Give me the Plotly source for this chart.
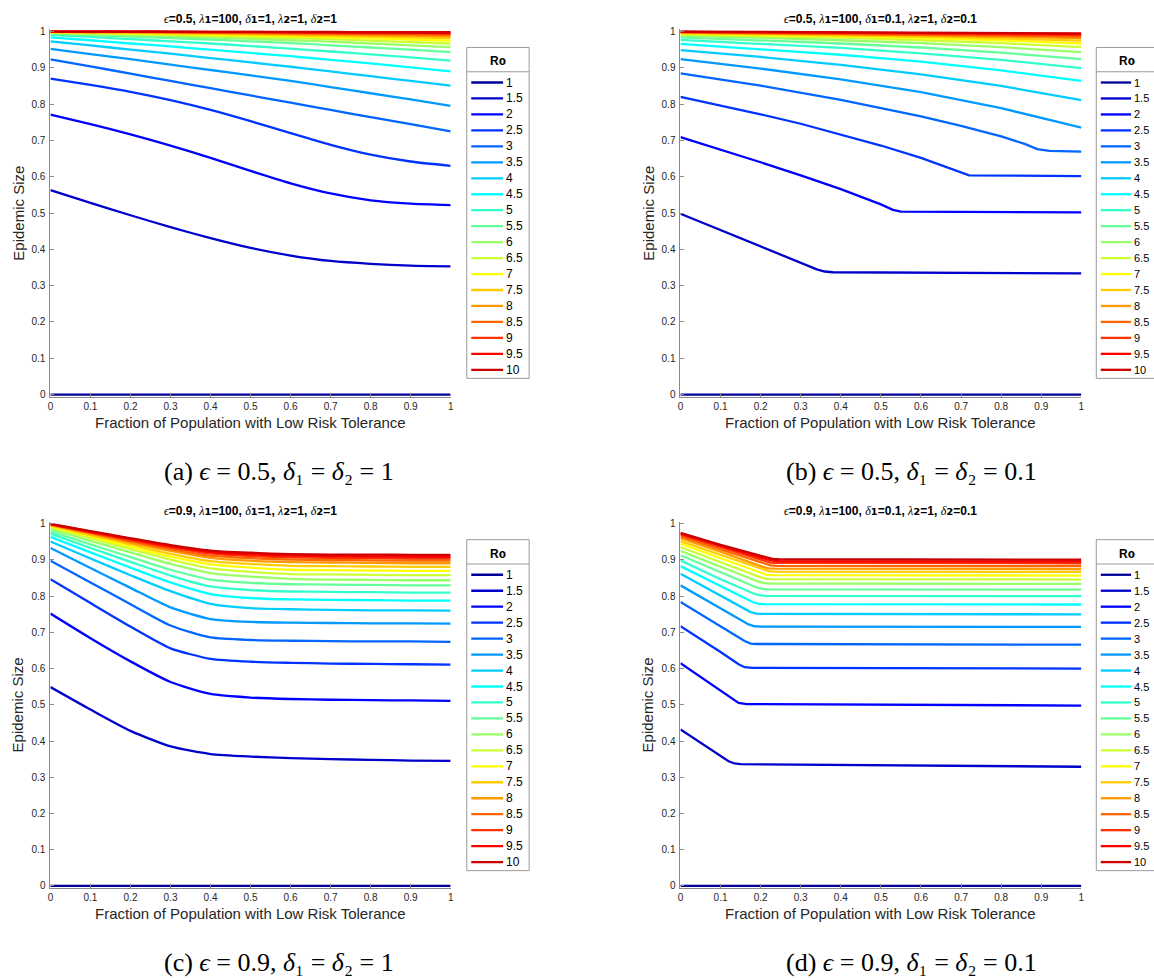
import plotly.graph_objects as go

W, H = 1154, 978

# ---------------- data ----------------
R0 = [1, 1.5, 2, 2.5, 3, 3.5, 4, 4.5, 5, 5.5, 6, 6.5, 7, 7.5, 8, 8.5, 9, 9.5, 10]
R0_LABELS = ["1", "1.5", "2", "2.5", "3", "3.5", "4", "4.5", "5", "5.5",
             "6", "6.5", "7", "7.5", "8", "8.5", "9", "9.5", "10"]
JET = ["rgb(0,0,153)", "rgb(0,0,204)", "rgb(0,0,255)", "rgb(0,51,255)", "rgb(0,102,255)",
       "rgb(0,153,255)", "rgb(0,204,255)", "rgb(0,255,255)", "rgb(51,255,204)", "rgb(102,255,153)",
       "rgb(153,255,102)", "rgb(204,255,51)", "rgb(255,255,0)", "rgb(255,204,0)", "rgb(255,153,0)",
       "rgb(255,102,0)", "rgb(255,51,0)", "rgb(255,0,0)", "rgb(204,0,0)"]

X11 = [0, 0.1, 0.2, 0.3, 0.4, 0.5, 0.6, 0.7, 0.8, 0.9, 1.0]
X6 = [0, 0.2, 0.4, 0.6, 0.8, 1.0]

# (a) eps=0.5, delta=1  (x = X11)
A_Y = [
    [0, 0, 0, 0, 0, 0, 0, 0, 0, 0, 0],
    [0.563, 0.528, 0.494, 0.461, 0.431, 0.404, 0.383, 0.368, 0.360, 0.355, 0.353],
    [0.771, 0.745, 0.717, 0.686, 0.652, 0.616, 0.582, 0.554, 0.535, 0.526, 0.522],
    [0.870, 0.853, 0.834, 0.811, 0.784, 0.753, 0.720, 0.688, 0.661, 0.642, 0.630],
    [0.923, 0.904, 0.884, 0.864, 0.844, 0.824, 0.804, 0.784, 0.764, 0.745, 0.725],
    [0.952, 0.938, 0.924, 0.909, 0.894, 0.879, 0.864, 0.847, 0.830, 0.813, 0.795],
    [0.973, 0.962, 0.950, 0.939, 0.927, 0.915, 0.903, 0.890, 0.877, 0.864, 0.851],
    [0.984, 0.976, 0.967, 0.959, 0.950, 0.941, 0.932, 0.922, 0.912, 0.901, 0.890],
    [0.991, 0.985, 0.979, 0.973, 0.967, 0.960, 0.953, 0.945, 0.937, 0.929, 0.920],
    [0.994, 0.990, 0.986, 0.982, 0.978, 0.973, 0.968, 0.962, 0.956, 0.950, 0.943],
    [0.996, 0.993, 0.990, 0.987, 0.984, 0.980, 0.976, 0.972, 0.967, 0.962, 0.957],
    [0.997, 0.995, 0.993, 0.991, 0.988, 0.985, 0.982, 0.979, 0.975, 0.971, 0.967],
    [0.998, 0.997, 0.995, 0.993, 0.991, 0.989, 0.987, 0.984, 0.981, 0.978, 0.975],
    [0.999, 0.998, 0.997, 0.995, 0.994, 0.992, 0.990, 0.988, 0.986, 0.984, 0.982],
    [0.999, 0.998, 0.998, 0.997, 0.996, 0.995, 0.993, 0.992, 0.990, 0.989, 0.987],
    [1.000, 0.999, 0.999, 0.998, 0.997, 0.996, 0.995, 0.994, 0.993, 0.992, 0.991],
    [1.000, 1.000, 0.999, 0.999, 0.998, 0.998, 0.997, 0.996, 0.996, 0.995, 0.994],
    [1.000, 1.000, 1.000, 0.999, 0.999, 0.999, 0.998, 0.998, 0.997, 0.997, 0.996],
    [1.000, 1.000, 1.000, 1.000, 0.999, 0.999, 0.999, 0.999, 0.998, 0.998, 0.998],
]

# (b) eps=0.5, delta=0.1
B_X = [
    [0, 1],
    [0, 0.1, 0.2, 0.3, 0.34, 0.36, 0.38, 1],
    [0, 0.1, 0.2, 0.3, 0.4, 0.5, 0.53, 0.55, 1],
    [0, 0.1, 0.2, 0.3, 0.4, 0.5, 0.6, 0.69, 0.72, 1],
    [0, 0.2, 0.4, 0.6, 0.7, 0.8, 0.86, 0.89, 0.92, 1],
] + [X6] * 14
B_Y = [
    [0, 0],
    [0.498, 0.453, 0.408, 0.362, 0.345, 0.339, 0.337, 0.334],
    [0.709, 0.675, 0.640, 0.604, 0.566, 0.524, 0.509, 0.504, 0.502],
    [0.820, 0.797, 0.772, 0.746, 0.717, 0.686, 0.652, 0.616, 0.604, 0.602],
    [0.885, 0.851, 0.812, 0.766, 0.740, 0.711, 0.690, 0.676, 0.671, 0.669],
    [0.924, 0.898, 0.868, 0.833, 0.789, 0.735],
    [0.949, 0.930, 0.908, 0.882, 0.850, 0.811],
    [0.966, 0.952, 0.936, 0.917, 0.893, 0.864],
    [0.977, 0.967, 0.955, 0.940, 0.922, 0.899],
    [0.984, 0.976, 0.967, 0.956, 0.942, 0.924],
    [0.989, 0.983, 0.976, 0.968, 0.957, 0.943],
    [0.992, 0.988, 0.983, 0.976, 0.968, 0.957],
    [0.994, 0.991, 0.987, 0.982, 0.976, 0.967],
    [0.996, 0.993, 0.990, 0.986, 0.981, 0.975],
    [0.997, 0.995, 0.993, 0.990, 0.986, 0.982],
    [0.998, 0.996, 0.994, 0.992, 0.989, 0.986],
    [0.999, 0.998, 0.996, 0.995, 0.993, 0.990],
    [0.999, 0.998, 0.997, 0.996, 0.995, 0.993],
    [1.000, 0.999, 0.998, 0.997, 0.996, 0.995],
]

# (c) eps=0.9, delta=1  (x = X11)
C_Y = [
    [0, 0, 0, 0, 0, 0, 0, 0, 0, 0, 0],
    [0.549, 0.487, 0.428, 0.385, 0.364, 0.357, 0.353, 0.350, 0.348, 0.346, 0.345],
    [0.752, 0.684, 0.620, 0.563, 0.530, 0.520, 0.516, 0.514, 0.513, 0.512, 0.511],
    [0.847, 0.781, 0.716, 0.656, 0.627, 0.619, 0.616, 0.614, 0.613, 0.612, 0.611],
    [0.898, 0.838, 0.778, 0.719, 0.686, 0.679, 0.677, 0.676, 0.675, 0.675, 0.674],
    [0.933, 0.878, 0.823, 0.769, 0.737, 0.729, 0.727, 0.726, 0.725, 0.725, 0.724],
    [0.951, 0.904, 0.858, 0.814, 0.779, 0.767, 0.764, 0.762, 0.761, 0.761, 0.760],
    [0.964, 0.921, 0.879, 0.838, 0.806, 0.795, 0.791, 0.790, 0.789, 0.788, 0.788],
    [0.973, 0.933, 0.895, 0.857, 0.827, 0.817, 0.813, 0.812, 0.811, 0.810, 0.810],
    [0.979, 0.943, 0.908, 0.873, 0.846, 0.837, 0.833, 0.832, 0.831, 0.830, 0.830],
    [0.986, 0.953, 0.921, 0.889, 0.864, 0.854, 0.848, 0.846, 0.845, 0.844, 0.844],
    [0.991, 0.960, 0.930, 0.901, 0.877, 0.867, 0.861, 0.860, 0.859, 0.858, 0.858],
    [0.993, 0.965, 0.937, 0.909, 0.888, 0.879, 0.873, 0.872, 0.871, 0.870, 0.870],
    [0.995, 0.969, 0.943, 0.917, 0.897, 0.889, 0.884, 0.883, 0.882, 0.881, 0.881],
    [0.997, 0.973, 0.948, 0.925, 0.906, 0.898, 0.894, 0.893, 0.892, 0.891, 0.891],
    [0.998, 0.975, 0.952, 0.930, 0.912, 0.905, 0.901, 0.900, 0.899, 0.898, 0.898],
    [0.999, 0.977, 0.955, 0.935, 0.918, 0.911, 0.907, 0.906, 0.905, 0.904, 0.904],
    [0.999, 0.978, 0.958, 0.938, 0.922, 0.916, 0.912, 0.911, 0.910, 0.909, 0.909],
    [1.000, 0.980, 0.960, 0.941, 0.926, 0.920, 0.916, 0.915, 0.915, 0.914, 0.914],
]

# (d) eps=0.9, delta=0.1
D_X = [
    [0, 1],
    [0, 0.05, 0.1, 0.12, 0.135, 0.15, 1],
    [0, 0.05, 0.1, 0.13, 0.145, 0.165, 1],
    [0, 0.05, 0.1, 0.145, 0.16, 0.18, 1],
    [0, 0.08, 0.16, 0.175, 0.19, 1],
    [0, 0.09, 0.17, 0.185, 0.2, 1],
    [0, 0.09, 0.175, 0.19, 0.2, 1],
    [0, 0.09, 0.18, 0.195, 0.21, 1],
    [0, 0.1, 0.185, 0.2, 0.215, 1],
    [0, 0.1, 0.19, 0.205, 0.22, 1],
    [0, 0.1, 0.195, 0.21, 0.225, 1],
    [0, 0.1, 0.2, 0.215, 0.23, 1],
    [0, 0.1, 0.2, 0.215, 0.23, 1],
    [0, 0.1, 0.205, 0.22, 0.235, 1],
    [0, 0.1, 0.205, 0.22, 0.235, 1],
    [0, 0.1, 0.21, 0.225, 0.24, 1],
    [0, 0.1, 0.21, 0.225, 0.24, 1],
    [0, 0.1, 0.215, 0.23, 0.245, 1],
    [0, 0.1, 0.215, 0.23, 0.245, 1],
]
D_Y = [
    [0, 0],
    [0.432, 0.395, 0.358, 0.344, 0.338, 0.336, 0.329],
    [0.615, 0.577, 0.539, 0.515, 0.505, 0.502, 0.498],
    [0.717, 0.682, 0.646, 0.612, 0.604, 0.602, 0.600],
    [0.784, 0.731, 0.676, 0.669, 0.668, 0.666],
    [0.830, 0.772, 0.722, 0.717, 0.716, 0.715],
    [0.862, 0.807, 0.756, 0.752, 0.751, 0.750],
    [0.883, 0.833, 0.784, 0.779, 0.778, 0.777],
    [0.899, 0.847, 0.806, 0.802, 0.801, 0.800],
    [0.913, 0.866, 0.824, 0.820, 0.819, 0.818],
    [0.925, 0.881, 0.840, 0.836, 0.835, 0.834],
    [0.936, 0.894, 0.852, 0.848, 0.847, 0.846],
    [0.945, 0.905, 0.863, 0.859, 0.858, 0.857],
    [0.952, 0.914, 0.873, 0.869, 0.868, 0.867],
    [0.960, 0.923, 0.881, 0.877, 0.876, 0.875],
    [0.965, 0.929, 0.889, 0.885, 0.884, 0.883],
    [0.970, 0.935, 0.897, 0.893, 0.892, 0.891],
    [0.973, 0.939, 0.902, 0.898, 0.897, 0.896],
    [0.975, 0.942, 0.907, 0.903, 0.902, 0.901],
]

TICKS = [0, 0.1, 0.2, 0.3, 0.4, 0.5, 0.6, 0.7, 0.8, 0.9, 1]
TICK_TEXT = ["0", "0.1", "0.2", "0.3", "0.4", "0.5", "0.6", "0.7", "0.8", "0.9", "1"]

GREEK = "<span style='font-family:Liberation Serif, DejaVu Serif, serif;font-weight:normal'><i>%s</i></span>"
SUB = "<span style='font-family:DejaVu Sans, sans-serif;font-size:%dpx'>%s</span>"


def title_txt(eps, d1, d2):
    s1 = SUB % (16, "₁")
    s2 = SUB % (16, "₂")
    return ("<b>" + GREEK % "ϵ" + "=" + eps + ", " + GREEK % "λ" + s1 + "=100, "
            + GREEK % "δ" + s1 + "=" + d1 + ", " + GREEK % "λ" + s2 + "=1, "
            + GREEK % "δ" + s2 + "=" + d2 + "</b>")


def caption_txt(tag, eps, d):
    return "(%s) <i>ϵ</i> = %s, <i>δ</i>₁ = <i>δ</i>₂ = %s" % (tag, eps, d)


PANELS = [
    dict(tag="a", eps="0.5", d="1", xs=[X11] * 19, ys=A_Y, left=47.7, right=450.0, top=28.7, bottom=394.0, spline=True),
    dict(tag="b", eps="0.5", d="0.1", xs=B_X, ys=B_Y, left=681.0, right=1084.0, top=28.7, bottom=394.0, spline=False),
    dict(tag="c", eps="0.9", d="1", xs=[X11] * 19, ys=C_Y, left=47.7, right=450.0, top=524.0, bottom=888.3, spline=True),
    dict(tag="d", eps="0.9", d="0.1", xs=D_X, ys=D_Y, left=681.0, right=1084.0, top=524.0, bottom=888.3, spline=False),
]


def px(x):
    return x / W


def py(y):
    return 1 - y / H


fig = go.Figure()
layout = dict(width=W, height=H, margin=dict(l=0, r=0, t=0, b=0),
              paper_bgcolor="white", plot_bgcolor="white", showlegend=False)
shapes, annotations = [], []
PAD = 0.006
AX_COLOR = "#8a8a8a"
TXT_COLOR = "#262626"
SANS = "Liberation Sans, Arial, Helvetica, DejaVu Sans, sans-serif"
SERIF = "Liberation Serif, Times New Roman, DejaVu Serif, serif"

for k, p in enumerate(PANELS):
    n = "" if k == 0 else str(k + 1)
    hpx = p["bottom"] - p["top"]
    ext = PAD * hpx
    right_side = p["left"] > 300
    layout["xaxis" + n] = dict(
        domain=[px(p["left"]), px(p["right"])], range=[0, 1], anchor="y" + n,
        tickvals=TICKS, ticktext=TICK_TEXT, ticks="inside", ticklen=4, tickcolor=AX_COLOR,
        showline=True, linecolor=AX_COLOR, linewidth=1, showgrid=False, zeroline=False,
        tickfont=dict(family=SANS, size=10, color=TXT_COLOR), fixedrange=True)
    layout["yaxis" + n] = dict(
        domain=[py(p["bottom"] + ext), py(p["top"] - ext)], range=[-PAD, 1 + PAD], anchor="x" + n,
        tickvals=TICKS, ticktext=TICK_TEXT, ticks="inside", ticklen=4, tickcolor=AX_COLOR,
        showline=True, linecolor=AX_COLOR, linewidth=1, showgrid=False, zeroline=False,
        ticklabelstandoff=2,
        tickfont=dict(family=SANS, size=10, color=TXT_COLOR), fixedrange=True)

    for i in range(len(R0)):
        line = dict(color=JET[i], width=2.3)
        if p["spline"]:
            line.update(shape="spline", smoothing=0.6)
        fig.add_trace(go.Scatter(x=p["xs"][i], y=p["ys"][i], mode="lines", line=line,
                                 name=R0_LABELS[i], xaxis="x" + n, yaxis="y" + n,
                                 hoverinfo="x+y+name"))

    cx = (p["left"] + p["right"]) / 2
    # title
    annotations.append(dict(text=title_txt(p["eps"], p["d"], p["d"]), x=px(cx), y=py(p["top"] - 14),
                            xref="paper", yref="paper", xanchor="center", yanchor="middle",
                            showarrow=False, font=dict(family=SANS, size=12, color="black")))
    # axis titles
    annotations.append(dict(text="Fraction of Population with Low Risk Tolerance", x=px(cx),
                            y=py(p["bottom"] + 28), xref="paper", yref="paper",
                            xanchor="center", yanchor="middle", showarrow=False,
                            font=dict(family=SANS, size=15, color=TXT_COLOR)))
    annotations.append(dict(text="Epidemic Size", x=px(p["left"] - 33), y=py((p["top"] + p["bottom"]) / 2),
                            xref="paper", yref="paper", xanchor="center", yanchor="middle",
                            textangle=-90, showarrow=False,
                            font=dict(family=SANS, size=15, color=TXT_COLOR)))
    # caption
    ccx = 913 if right_side else 277
    annotations.append(dict(text=caption_txt(p["tag"], p["eps"], p["d"]), x=px(ccx),
                            y=py(p["bottom"] + 77), xref="paper", yref="paper",
                            xanchor="center", yanchor="middle", showarrow=False,
                            font=dict(family=SERIF, size=26, color="black")))
    # legend box
    lx0 = p["left"] + (418.0 if right_side else 418.5)
    lx1 = lx0 + 62.7
    ly0 = p["top"] + 16
    ly1 = ly0 + 333
    shapes.append(dict(type="rect", xref="paper", yref="paper", x0=px(lx0), x1=px(lx1),
                       y0=py(ly0), y1=py(ly1), line=dict(color="#9a9a9a", width=1),
                       fillcolor="white", layer="above"))
    shapes.append(dict(type="line", xref="paper", yref="paper", x0=px(lx0), x1=px(lx1),
                       y0=py(ly0 + 24.5), y1=py(ly0 + 24.5), line=dict(color="#9a9a9a", width=1),
                       layer="above"))
    annotations.append(dict(text="<b>R" + SUB % (17, "₀") + "</b>", x=px((lx0 + lx1) / 2), y=py(ly0 + 12),
                            xref="paper", yref="paper", xanchor="center", yanchor="middle",
                            showarrow=False, font=dict(family=SANS, size=12, color="black")))
    line_x1 = 35.0 if right_side else 36.5
    txt_dx = 37.0 if right_side else 38.0
    txt_size = 11 if right_side else 12
    for i in range(len(R0)):
        yy = ly0 + 35.3 + 16.06 * i
        shapes.append(dict(type="line", xref="paper", yref="paper", x0=px(lx0 + 4.5), x1=px(lx0 + line_x1),
                           y0=py(yy), y1=py(yy), line=dict(color=JET[i], width=2.3), layer="above"))
        annotations.append(dict(text=R0_LABELS[i], x=px(lx0 + txt_dx), y=py(yy), xref="paper", yref="paper",
                                xanchor="left", yanchor="middle", showarrow=False, borderpad=0,
                                font=dict(family=SANS, size=txt_size, color="black")))

layout["shapes"] = shapes
layout["annotations"] = annotations
fig.update_layout(**layout)
fig.write_html("out.html", config={"displayModeBar": False},
               post_script="document.body.style.margin='0';document.body.style.padding='0';"
                           "document.body.style.overflow='hidden';")
